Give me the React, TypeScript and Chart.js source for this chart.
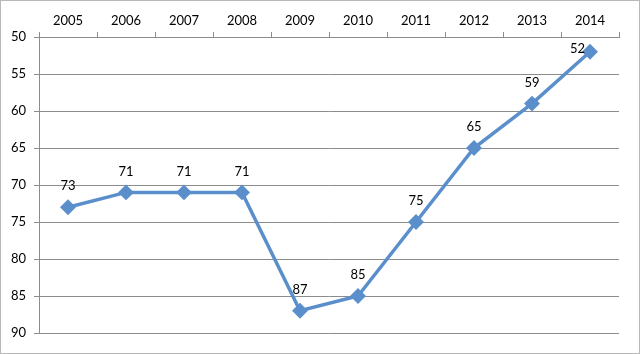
import React, { useEffect, useRef } from "react";
import { Chart, registerables } from "chart.js";

Chart.register(...registerables);

const years = ["2005", "2006", "2007", "2008", "2009", "2010", "2011", "2012", "2013", "2014"];
const values = [73, 71, 71, 71, 87, 85, 75, 65, 59, 52];
const yMin = 50;
const yMax = 90;
const yStep = 5;

const FONT = "Lato, 'Open Sans', sans-serif";
const LINE = "#5A8FCB";
const GRID = "#8c8c8c";

const frame = {
  id: "frame",
  beforeDraw(chart: any) {
    const c = chart.ctx;
    c.save();
    c.fillStyle = "#ffffff";
    c.fillRect(0, 0, chart.width, chart.height);
    c.strokeStyle = "#b8b8b8";
    c.lineWidth = 1;
    c.strokeRect(0.5, 0.5, chart.width - 1, chart.height - 1);
    c.restore();
  },
};

const labels = {
  id: "labels",
  afterDatasetsDraw(chart: any) {
    const c = chart.ctx;
    const meta = chart.getDatasetMeta(0);
    const data = chart.data.datasets[0].data;
    c.save();
    c.font = `13px ${FONT}`;
    c.fillStyle = "#000";
    c.textBaseline = "middle";
    meta.data.forEach((p: any, i: number) => {
      const last = i === meta.data.length - 1;
      if (last) {
        c.textAlign = "right";
        c.fillText(String(data[i]), p.x - 5, p.y - 3);
      } else {
        c.textAlign = "center";
        c.fillText(String(data[i]), p.x, p.y - 21);
      }
    });
    c.restore();
  },
};

export default function App() {
  const ref = useRef<HTMLCanvasElement | null>(null);
  useEffect(() => {
    document.body.style.margin = "0";
    const chart = new Chart(ref.current!, {
      type: "line",
      data: {
        labels: years,
        datasets: [
          {
            data: values,
            borderColor: LINE,
            backgroundColor: LINE,
            borderWidth: 3.5,
            pointStyle: "rectRot",
            pointRadius: 5.5,
            pointHoverRadius: 5.5,
            tension: 0,
          },
        ],
      },
      options: {
        animation: false,
        responsive: false,
        maintainAspectRatio: false,
        layout: { padding: { left: 0, top: 0, right: 21, bottom: 21 } },
        plugins: { legend: { display: false }, tooltip: { enabled: false } },
        scales: {
          x: {
            position: "top",
            offset: true,
            afterFit(s: any) {
              s.height = 37;
            },
            grid: {
              offset: true,
              drawOnChartArea: false,
              drawTicks: true,
              tickLength: 5,
              color: GRID,
            },
            border: { display: true, color: GRID },
            ticks: { color: "#000", font: { family: FONT, size: 13 }, padding: 3, maxRotation: 0 },
          },
          y: {
            reverse: true,
            min: yMin,
            max: yMax,
            afterFit(s: any) {
              s.width = 39;
            },
            ticks: { stepSize: yStep, color: "#000", font: { family: FONT, size: 13 }, padding: 8 },
            grid: { color: GRID, tickLength: 5 },
            border: { display: true, color: GRID },
          },
        },
      },
      plugins: [frame, labels],
    });
    return () => chart.destroy();
  }, []);
  return (
    <div style={{ position: "absolute", left: 0, top: 0, width: 640, height: 354 }}>
      <canvas ref={ref} width={640} height={354} />
    </div>
  );
}
